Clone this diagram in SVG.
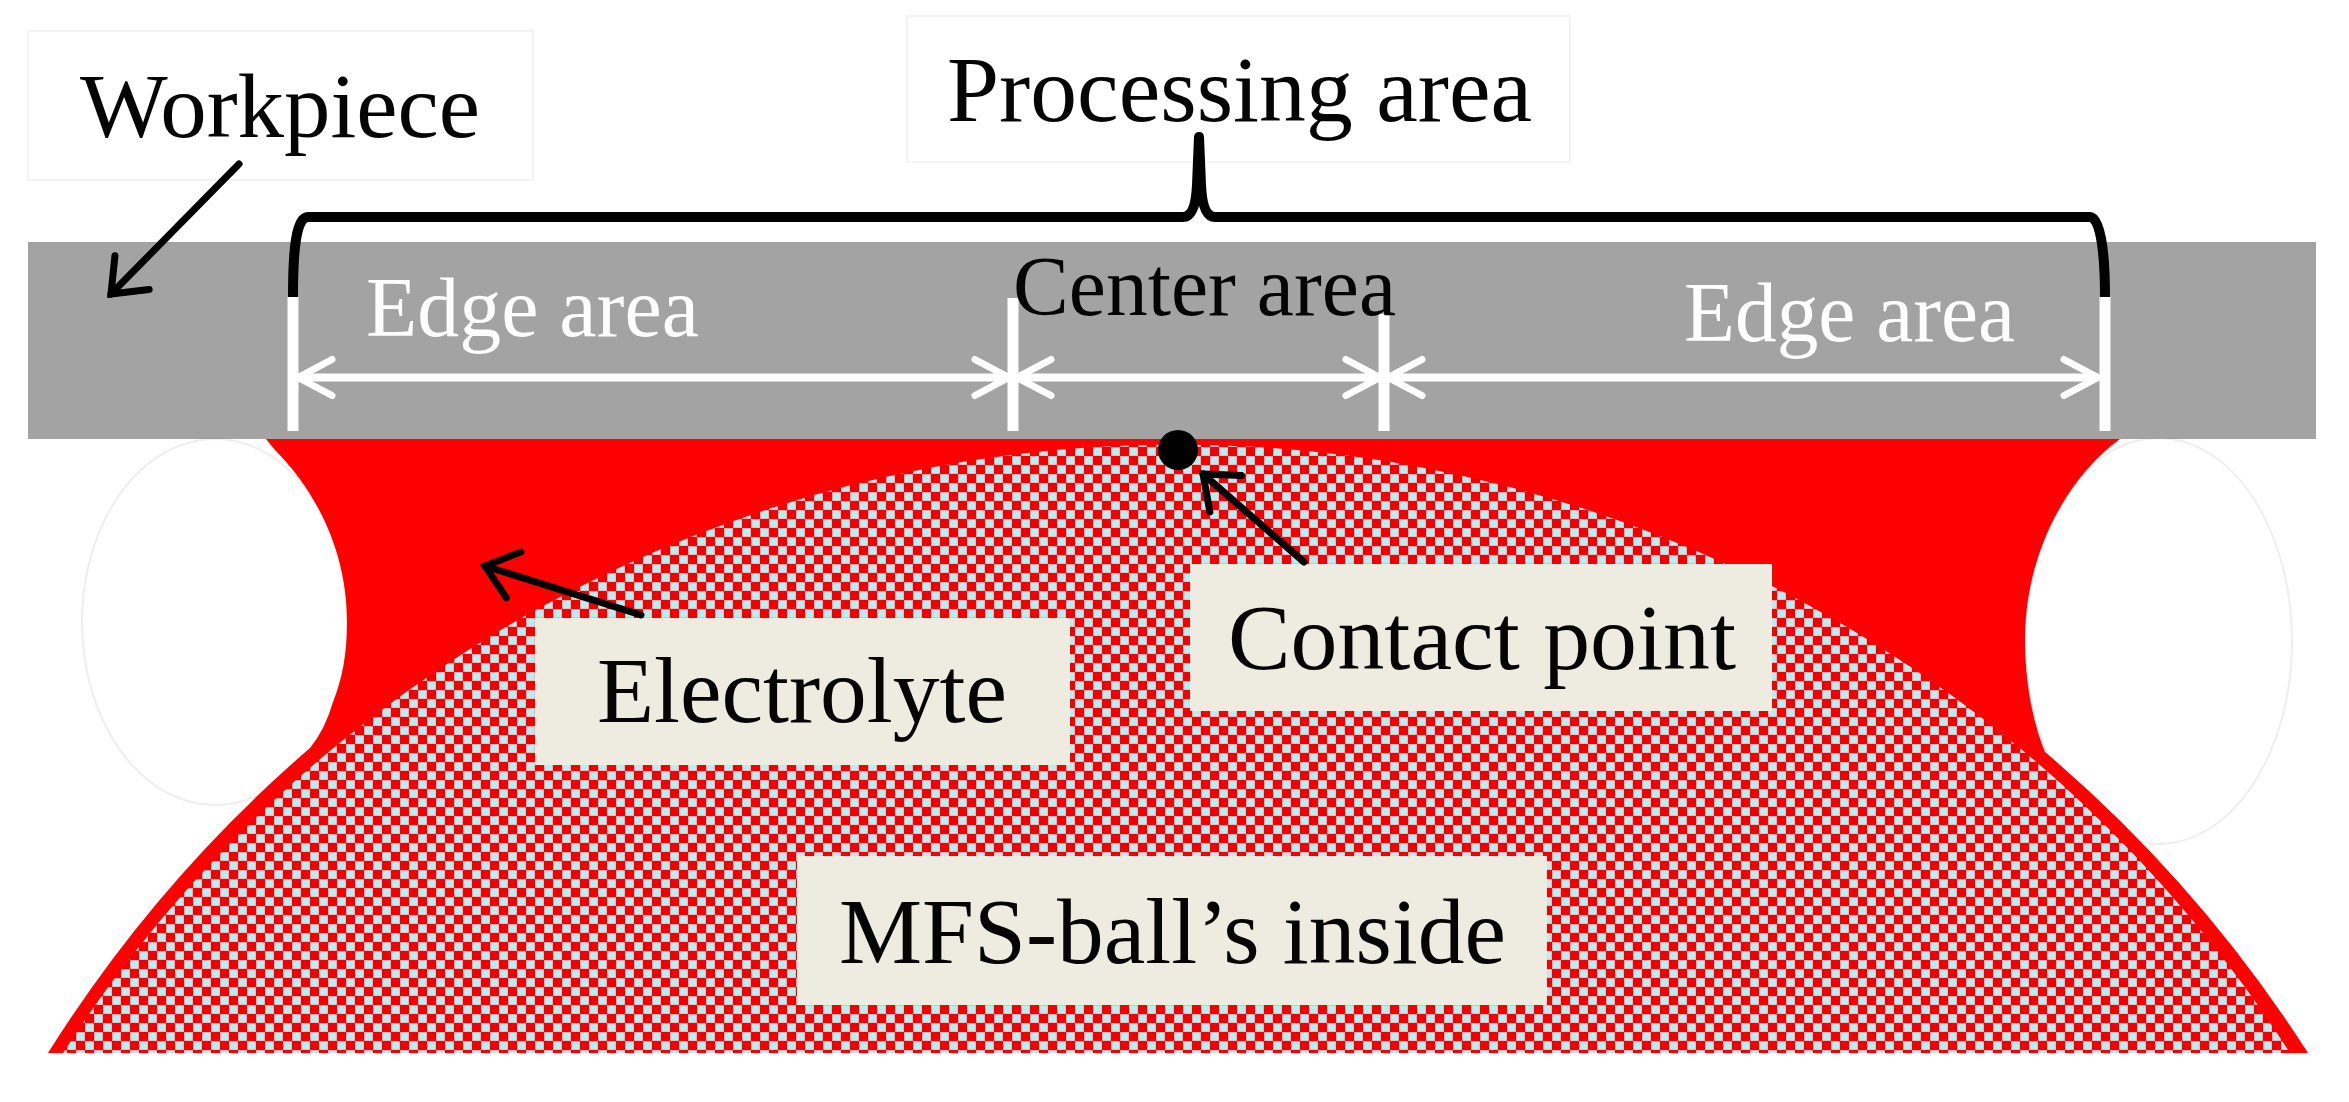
<svg xmlns="http://www.w3.org/2000/svg" width="2349" height="1102" viewBox="0 0 2349 1102">
<style>
text{font-family:"Liberation Serif","Times New Roman",serif;fill:#050505}
.w{fill:#fdfdfd}
.beige{fill:#eeece1}
.faint{fill:none;stroke:#eeeeee;stroke-width:2}
.box{fill:#fff;stroke:#f3f3f3;stroke-width:2}
.wl{stroke:#fff;stroke-width:8;fill:none;marker-start:url(#wa);marker-end:url(#wa)}
.wv{stroke:#fff;stroke-width:11;fill:none}
.bl{stroke:#000;stroke-width:7;fill:none;stroke-linecap:round;marker-end:url(#ba)}
</style>
<defs>
<pattern id="chk" width="18" height="18" patternUnits="userSpaceOnUse" patternTransform="translate(13 15)">
<rect width="18" height="18" fill="#f20000"/>
<rect x="0" y="0" width="9" height="9" fill="#f8b4bc"/>
<rect x="9" y="9" width="9" height="9" fill="#f8b4bc"/>
<rect x="1" y="1" width="7" height="7" fill="#b4f0f2"/>
<rect x="10" y="10" width="7" height="7" fill="#b4f0f2"/>
</pattern>
<marker id="wa" markerUnits="userSpaceOnUse" markerWidth="80" markerHeight="60" refX="40" refY="30" orient="auto-start-reverse" viewBox="0 0 80 60">
<path d="M6 12 L40 30 L6 48" fill="none" stroke="#fff" stroke-width="7" stroke-linecap="round" stroke-linejoin="round"/>
</marker>
<marker id="ba" markerUnits="userSpaceOnUse" markerWidth="80" markerHeight="70" refX="40" refY="35" orient="auto" viewBox="0 0 80 70">
<path d="M10 11 L40 35 L10 59" fill="none" stroke="#000" stroke-width="7" stroke-linecap="round" stroke-linejoin="miter"/>
</marker>
</defs>
<rect width="2349" height="1102" fill="#fff"/>
<g id="meniscus-outlines">
<ellipse class="faint" cx="215" cy="622" rx="133" ry="183"/>
<ellipse class="faint" cx="2158.5" cy="641" rx="133.5" ry="203"/>
</g>
<g id="electrolyte">
<path fill="#ff0000" d="M266 439 L275 450 C315 490 347 550 347 622 C347 655 342 680 333 702 Q325 730 310 748 A1352 1352 0 0 0 48 1053 L2308 1053 A1352 1352 0 0 0 2045 752 C2032 720 2025 680 2025 640 C2025 550 2070 475 2120 439 Z"/>
</g>
<g id="mfs-ball">
<path fill="url(#chk)" d="M63 1053 A1323 1323 0 0 1 2290 1053 Z"/>
</g>
<g id="workpiece-bar">
<rect x="28" y="242" width="2288" height="197" fill="#a3a3a3"/>
</g>
<g id="contact-dot">
<circle cx="1178" cy="450" r="20" fill="#000"/>
</g>
<g id="connectors">
<path class="wv" d="M293 297V431M1013 298V431M1384 314V431M2105 297V431"/>
<line class="wl" x1="298" y1="377.5" x2="1009" y2="377.5"/>
<line class="wl" x1="1017" y1="377.5" x2="1380" y2="377.5"/>
<line class="wl" x1="1388" y1="377.5" x2="2098" y2="377.5"/>
</g>
<g id="label-workpiece">
<rect class="box" x="28" y="31" width="505" height="149"/>
<text x="80" y="137" font-size="92" textLength="400" lengthAdjust="spacingAndGlyphs">Workpiece</text>
</g>
<g id="label-processing">
<rect class="box" x="907" y="16" width="663" height="146"/>
<text x="947" y="121" font-size="93.6" textLength="585" lengthAdjust="spacingAndGlyphs">Processing area</text>
</g>
<g id="processing-bracket">
<path fill="none" stroke="#000" stroke-width="10" stroke-linejoin="round" d="M293 297 C293 250 296 217 308 217 L1183 217 C1192 217 1196 205 1197 185 L1199 137 L1201 185 C1202 205 1206 217 1215 217 L2090 217 C2100 217 2105 250 2105 297"/>
</g>
<g id="label-center">
<text x="1013" y="315" font-size="84" textLength="383" lengthAdjust="spacingAndGlyphs">Center area</text>
</g>
<g id="label-edge-left">
<text class="w" x="366" y="336" font-size="84" textLength="333" lengthAdjust="spacingAndGlyphs">Edge area</text>
</g>
<g id="label-edge-right">
<text class="w" x="1684" y="341" font-size="84" textLength="331" lengthAdjust="spacingAndGlyphs">Edge area</text>
</g>
<g id="label-electrolyte">
<rect class="beige" x="535" y="618" width="535" height="147"/>
<text x="597" y="722" font-size="93.4" textLength="410" lengthAdjust="spacingAndGlyphs">Electrolyte</text>
</g>
<g id="label-contact">
<rect class="beige" x="1190" y="564" width="582" height="147"/>
<text x="1228" y="669" font-size="93.8" textLength="508" lengthAdjust="spacingAndGlyphs">Contact point</text>
</g>
<g id="label-mfs">
<rect class="beige" x="797" y="856" width="750" height="149"/>
<text x="839" y="963" font-size="92.7" textLength="667" lengthAdjust="spacingAndGlyphs">MFS-ball’s inside</text>
</g>
<g id="pointers">
<line class="bl" x1="239" y1="164" x2="111" y2="294"/>
<line class="bl" x1="641" y1="615" x2="485" y2="566"/>
<line class="bl" x1="1304" y1="562" x2="1203" y2="474"/>
</g>
</svg>
